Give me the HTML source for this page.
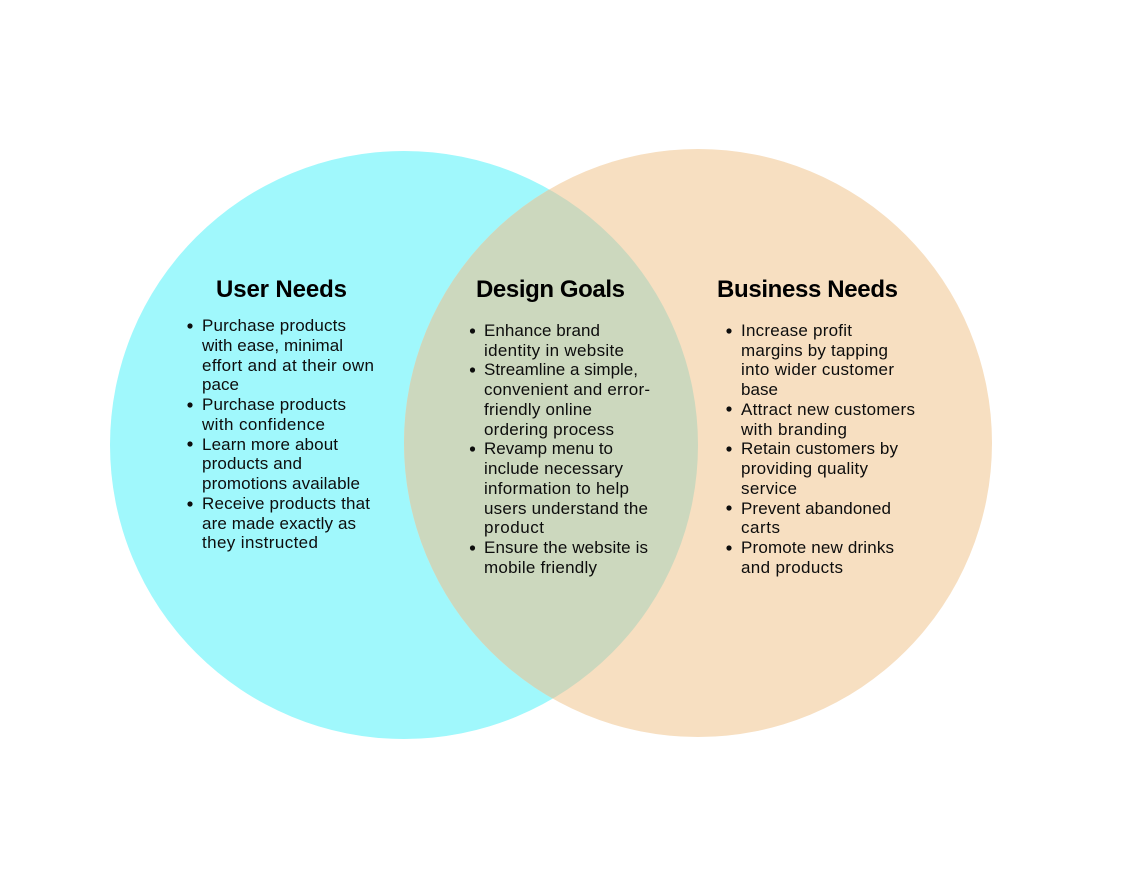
<!DOCTYPE html>
<html>
<head>
<meta charset="utf-8">
<style>
html,body{margin:0;padding:0;background:#fff;width:1122px;height:886px;overflow:hidden}
svg{display:block}
text{font-family:"Liberation Sans",sans-serif;fill:#0d0d0d}
.t{font-size:24px;font-weight:bold;fill:#000}
.b{font-size:17px}
</style>
</head>
<body>
<svg width="1122" height="886" viewBox="0 0 1122 886" xmlns="http://www.w3.org/2000/svg">
<defs><clipPath id="c"><circle cx="404" cy="445" r="294"/></clipPath></defs>
<circle cx="404" cy="445" r="294" fill="#A0F8FC"/>
<circle cx="698" cy="443" r="294" fill="#F7DFC1"/>
<circle cx="698" cy="443" r="294" fill="#CCD8BE" clip-path="url(#c)"/>

<text class="t" x="216" y="297" textLength="131" lengthAdjust="spacing">User Needs</text>
<text class="t" x="476" y="297" textLength="149" lengthAdjust="spacing">Design Goals</text>
<text class="t" x="717" y="297" textLength="181" lengthAdjust="spacing">Business Needs</text>

<g fill="#0d0d0d">
<circle cx="190" cy="326" r="2.6"/><circle cx="190" cy="405" r="2.6"/><circle cx="190" cy="444" r="2.6"/><circle cx="190" cy="504" r="2.6"/>
<circle cx="472.500" cy="331" r="2.6"/><circle cx="472.500" cy="370" r="2.6"/><circle cx="472.500" cy="449" r="2.6"/><circle cx="472.500" cy="548" r="2.6"/>
<circle cx="729" cy="331" r="2.6"/><circle cx="729" cy="409" r="2.6"/><circle cx="729" cy="449" r="2.6"/><circle cx="729" cy="508" r="2.6"/><circle cx="729" cy="548" r="2.6"/>
</g>

<g class="b">
<text class="b" x="202" y="331" textLength="144" lengthAdjust="spacing">Purchase products</text>
<text class="b" x="202" y="351" textLength="141" lengthAdjust="spacing">with ease, minimal</text>
<text class="b" x="202" y="371" textLength="172" lengthAdjust="spacing">effort and at their own</text>
<text class="b" x="202" y="390" textLength="37" lengthAdjust="spacing">pace</text>
<text class="b" x="202" y="410" textLength="144" lengthAdjust="spacing">Purchase products</text>
<text class="b" x="202" y="430" textLength="123" lengthAdjust="spacing">with confidence</text>
<text class="b" x="202" y="450" textLength="136" lengthAdjust="spacing">Learn more about</text>
<text class="b" x="202" y="469" textLength="100" lengthAdjust="spacing">products and</text>
<text class="b" x="202" y="489" textLength="158" lengthAdjust="spacing">promotions available</text>
<text class="b" x="202" y="509" textLength="168" lengthAdjust="spacing">Receive products that</text>
<text class="b" x="202" y="529" textLength="154" lengthAdjust="spacing">are made exactly as</text>
<text class="b" x="202" y="548" textLength="116" lengthAdjust="spacing">they instructed</text>

<text class="b" x="484" y="336" textLength="116" lengthAdjust="spacing">Enhance brand</text>
<text class="b" x="484" y="356" textLength="140" lengthAdjust="spacing">identity in website</text>
<text class="b" x="484" y="375" textLength="154" lengthAdjust="spacing">Streamline a simple,</text>
<text class="b" x="484" y="395" textLength="166" lengthAdjust="spacing">convenient and error-</text>
<text class="b" x="484" y="415" textLength="108" lengthAdjust="spacing">friendly online</text>
<text class="b" x="484" y="435" textLength="130" lengthAdjust="spacing">ordering process</text>
<text class="b" x="484" y="454" textLength="129" lengthAdjust="spacing">Revamp menu to</text>
<text class="b" x="484" y="474" textLength="139" lengthAdjust="spacing">include necessary</text>
<text class="b" x="484" y="494" textLength="145" lengthAdjust="spacing">information to help</text>
<text class="b" x="484" y="514" textLength="164" lengthAdjust="spacing">users understand the</text>
<text class="b" x="484" y="533" textLength="60" lengthAdjust="spacing">product</text>
<text class="b" x="484" y="553" textLength="164" lengthAdjust="spacing">Ensure the website is</text>
<text class="b" x="484" y="573" textLength="113" lengthAdjust="spacing">mobile friendly</text>

<text class="b" x="741" y="336" textLength="111" lengthAdjust="spacing">Increase profit</text>
<text class="b" x="741" y="356" textLength="147" lengthAdjust="spacing">margins by tapping</text>
<text class="b" x="741" y="375" textLength="153" lengthAdjust="spacing">into wider customer</text>
<text class="b" x="741" y="395" textLength="37" lengthAdjust="spacing">base</text>
<text class="b" x="741" y="415" textLength="174" lengthAdjust="spacing">Attract new customers</text>
<text class="b" x="741" y="435" textLength="106" lengthAdjust="spacing">with branding</text>
<text class="b" x="741" y="454" textLength="157" lengthAdjust="spacing">Retain customers by</text>
<text class="b" x="741" y="474" textLength="127" lengthAdjust="spacing">providing quality</text>
<text class="b" x="741" y="494" textLength="56" lengthAdjust="spacing">service</text>
<text class="b" x="741" y="514" textLength="150" lengthAdjust="spacing">Prevent abandoned</text>
<text class="b" x="741" y="533" textLength="39" lengthAdjust="spacing">carts</text>
<text class="b" x="741" y="553" textLength="153" lengthAdjust="spacing">Promote new drinks</text>
<text class="b" x="741" y="573" textLength="102" lengthAdjust="spacing">and products</text>
</g>
</svg>
</body>
</html>
